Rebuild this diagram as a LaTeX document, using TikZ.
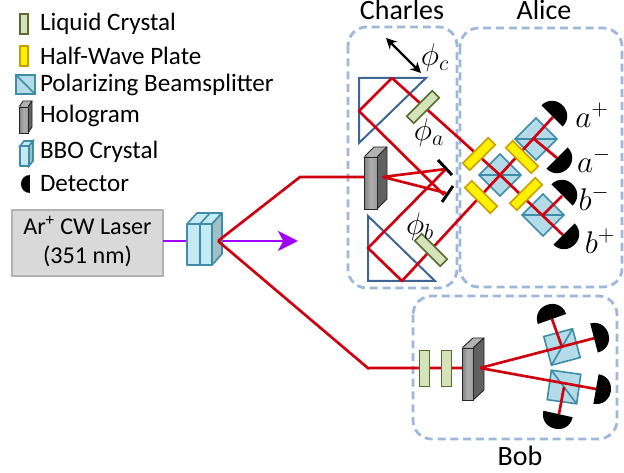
\RequirePackage{fix-cm}
\documentclass[tikz,border=0pt]{standalone}
\usepackage{fontspec}
\setmainfont{Carlito}
\usetikzlibrary{arrows.meta}
\definecolor{beam}{HTML}{D0000F}
\definecolor{pump}{HTML}{A000FF}
\definecolor{dashblue}{HTML}{9DB8DC}
\definecolor{prismblue}{HTML}{3F6496}
\definecolor{pbsedge}{HTML}{3E8CA8}
\definecolor{pbsfill}{HTML}{B4DCE8}
\definecolor{bbofront}{HTML}{C4EAF4}
\definecolor{bboside}{HTML}{A0C0C8}
\definecolor{lcedge}{HTML}{556B2F}
\definecolor{lcfill}{HTML}{D5E3B8}
\definecolor{hwedge}{HTML}{C9A000}
\definecolor{hwfill}{HTML}{FFF000}
\tikzset{
  x=0.75pt,y=-0.75pt,
  every node/.style={outer sep=0pt,inner sep=0pt},
  region/.style={draw=dashblue,line width=2.1pt,dash pattern=on 6pt off 3.6pt,rounded corners=14pt},
  redbeam/.style={draw=beam,line width=2pt},
  pumpbeam/.style={draw=pump,line width=2.2pt},
  prism/.style={draw=prismblue,line width=1.5pt,line join=miter},
  lcplate/.style={draw=lcedge,fill=lcfill,line width=1.2pt,minimum width=27pt,minimum height=7.5pt},
  hwplate/.style={draw=hwedge,fill=hwfill,line width=1.2pt,minimum width=27pt,minimum height=7.5pt},
  pbs/.style={draw=pbsedge,fill=pbsfill,line width=1.2pt,minimum width=#1,minimum height=#1},
  pbs/.default=22.3pt,
  pbsline/.style={draw=pbsedge,line width=1.2pt},
  legendtext/.style={anchor=west,font=\fontsize{18.8}{22}\selectfont},
  title/.style={font=\fontsize{21}{24}\selectfont},
  mathlabel/.style={font=\fontsize{23.5}{26}\selectfont},
  mirror/.style={draw=black,line width=2.2pt},
}
\newcommand\halfdisc[4]{%
  \begin{scope}[shift={(#1,#2)},rotate=#3]
    \fill[black] (#4,0) .. controls (#4,1.333*#4) and (-#4,1.333*#4) .. (-#4,0) -- cycle;
  \end{scope}}
\newcommand\holo[6]{% x y w h dx dy
  \draw[black!85,line width=0.7pt,line join=round,fill=gray!60]
    (#1,#2) -- ++(#5,#6) -- ++(#3,0) -- ++(-#5,-#6) -- cycle;
  \draw[black!85,line width=0.7pt,line join=round,fill=black!62]
    (#1+#3,#2) -- ++(#5,#6) -- ++(0,#4) -- ++(-#5,-#6) -- cycle;
  \draw[black!85,line width=0.7pt,left color=black!50,right color=black!38,middle color=black!32]
    (#1,#2) rectangle ++(#3,#4);}
\newcommand\bbocell[4]{% x y w h
  \draw[pbsedge,line width=1.4pt,line join=round,fill=bbofront] (#1,#2) rectangle ++(#3,#4);}
\begin{document}
\begin{tikzpicture}
\useasboundingbox (0,0) rectangle (624,473);

% regions
\draw[region] (348,27) rectangle (457,288);
\draw[region] (460,28) rectangle (622,287);
\draw[region] (413,296) rectangle (617,439);

% named path points
\coordinate (src) at (218,241);
\coordinate (up) at (300,177);
\coordinate (holoC) at (383,177);
\coordinate (low) at (369,369);
\coordinate (holoB) at (480,368);
\coordinate (m1) at (446,169);
\coordinate (m2) at (446,193);
\coordinate (t1) at (392,78);
\coordinate (t2) at (359,111);
\coordinate (t3) at (444,195);
\coordinate (b1) at (368,248);
\coordinate (b2) at (402,281);
\coordinate (cen) at (500,175);
\coordinate (da) at (553,117);
\coordinate (dam) at (557,158);
\coordinate (bp) at (564,236);
\coordinate (pa) at (534,139);
\coordinate (pb) at (543,215);
\coordinate (dbm) at (562,196);
\coordinate (dr1) at (595,338);
\coordinate (dr2) at (596,389);
\coordinate (qa) at (562,347);
\coordinate (qb) at (564,387);
\coordinate (dt) at (552,319);
\coordinate (db) at (559,414);

% prisms
\draw[prism] (359,78) -- (426,78) -- (359,143) -- cycle;
\draw[prism] (368,216) -- (368,281) -- (435,281) -- cycle;

% pump and laser
\node[draw=black!30,fill=black!15,line width=1.5pt,minimum width=113pt,minimum height=49.5pt,anchor=north west] (laser) at (12,210) {};
\node[font=\fontsize{18.1}{18}\selectfont,align=center] (lasertext) at (87.5,241.5) {Ar\textsuperscript{+} CW Laser\\[3.5pt](351 nm)};
\draw[pumpbeam] (laser.east |- src) -- (190,241);
\draw[pumpbeam,-{Stealth[length=15pt,width=15pt,inset=4pt]}] (src) -- (298,241);

% BBO
\draw[pbsedge,line width=1.2pt,line join=round,fill=bbofront] (187,224) -- (197,213) -- (222,213) -- (212,224) -- cycle;
\draw[pbsedge,line width=1.2pt] (200,224) -- (210,213);
\draw[pbsedge,line width=1.2pt,line join=round,fill=bboside] (212,224) -- (222,213) -- (222,254) -- (212,265) -- cycle;
\bbocell{187}{224}{13}{41}
\bbocell{200}{224}{12}{41}

% beams to Charles and Bob
\draw[redbeam,line join=miter] (src) -- (up) -- (holoC);
\draw[redbeam] (src) -- (low) (low) ++(0,-1) -- (holoB);

% PBS Alice
\node[pbs,rotate=45] (pbsC) at (cen) {};
\node[pbs,rotate=45] (pbsA) at (536,139) {};
\node[pbs,rotate=45] (pbsB) at (pb) {};
\draw[pbsline] (pbsC.north west) -- (pbsC.south east);
\draw[pbsline] (pbsA.north west) -- (pbsA.south east);
\draw[pbsline] (pbsB.north west) -- (pbsB.south east);

% Charles internal beams
\draw[redbeam,line join=round] (t3) -- (t2) -- (t1) -- (cen) -- (bp);
\draw[redbeam,line join=round] (m1) -- (b1) -- (b2) -- (cen) -- (da);
\draw[redbeam] (pa) -- (dam);
\draw[redbeam] (pb) -- (dbm);

% half wave plates
\node[hwplate,rotate=45] (hw1) at (479,154) {};
\node[hwplate,rotate=-45] (hw2) at (522,157) {};
\node[hwplate,rotate=-45] (hw3) at (481,197) {};
\node[hwplate,rotate=45] (hw4) at (526,194) {};

% liquid crystals
\node[lcplate,rotate=45] (lcA) at (423,107) {};
\node[lcplate,rotate=-45] (lcB) at (431,250) {};

% Charles hologram and fans
\holo{364}{157}{13}{52}{10}{-10}
\draw[redbeam,line join=round] (m1) -- (holoC) -- (m2);
\draw[mirror] (438,160) -- (452,175);
\draw[mirror] (442,202) -- (453,186);

% detectors Alice
\halfdisc{552}{116}{135}{15}
\halfdisc{557}{158}{45}{15}
\halfdisc{562}{195}{135}{15}
\halfdisc{564}{234}{45}{15}

% Bob
\node[pbs,rotate=15] (pbsD) at (qa) {};
\node[pbs,rotate=-8] (pbsE) at (qb) {};
\draw[pbsline] (pbsD.south west) -- (pbsD.north east);
\draw[pbsline] (pbsE.north west) -- (pbsE.south east);
\draw[redbeam] (qa) -- (dt);
\draw[redbeam] (qb) -- (db);
\node[lcplate,rotate=90] (lcC) at (424.5,368.5) {};
\node[lcplate,rotate=90] (lcD) at (446.5,368.5) {};
\holo{462}{348}{11}{52}{11}{-10}
\draw[redbeam] (holoB) -- (dr1);
\draw[redbeam] (holoB) -- (dr2);
\halfdisc{594}{338}{104.6}{15}
\halfdisc{596}{389}{80}{15}
\halfdisc{552}{319}{199.6}{15}
\halfdisc{558}{414}{-12.5}{15}

% phi c arrow
\coordinate (ca) at (386,38);
\coordinate (cb) at (421,73);
\draw[black,line width=1.8pt,{Stealth[length=8pt,width=8pt]}-{Stealth[length=8pt,width=8pt]}] (ca) -- (cb);

% labels
\node[title] (charles) at (402,10) {Charles};
\node[title] (alice) at (544,10) {Alice};
\node[title] (bob) at (520,456) {Bob};
\node[mathlabel] (phic) at (435,58) {$\phi_c$};
\node[mathlabel] (phia) at (429,133) {$\phi_a$};
\node[mathlabel] (phib) at (420,227) {$\phi_b$};
\node[mathlabel] (ap) at (592,115) {$a^+$};
\node[mathlabel] (am) at (594,160) {$a^-$};
\node[mathlabel] (bm) at (594,198) {$b^-$};
\node[mathlabel] (bp2) at (600,241) {$b^+$};

% legend
\node[lcplate,rotate=90,minimum width=15pt,minimum height=6pt] (lgLC) at (24,24) {};
\node[hwplate,rotate=90,minimum width=15pt,minimum height=6pt] (lgHW) at (24,56) {};
\node[pbs=14pt] (lgPBS) at (25.5,84.5) {};
\draw[pbsline] (lgPBS.north west) -- (lgPBS.south east);
\holo{19}{107}{9}{26}{4}{-6}
\draw[pbsedge,line width=1.2pt,fill=bbofront] (20,146) -- (24,141) -- (33,141) -- (29,146) -- cycle;
\draw[pbsedge,line width=1.2pt,fill=bboside] (29,146) -- (33,141) -- (33,161) -- (29,166) -- cycle;
\bbocell{20}{146}{9}{20}
\halfdisc{30}{184}{270}{9}
\node[legendtext] (t1n) at (40,24) {Liquid Crystal};
\node[legendtext] (t2n) at (40,56) {Half-Wave Plate};
\node[legendtext] (t3n) at (40,85) {Polarizing Beamsplitter};
\node[legendtext] (t4n) at (40,116) {Hologram};
\node[legendtext] (t5n) at (40,152) {BBO Crystal};
\node[legendtext] (t6n) at (40,184) {Detector};
\end{tikzpicture}
\end{document}
